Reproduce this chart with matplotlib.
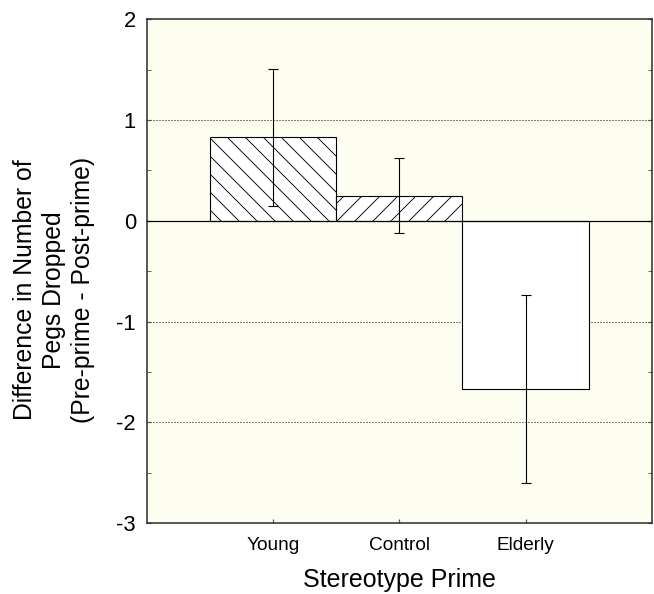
import matplotlib
matplotlib.use('Agg')
import matplotlib.pyplot as plt
from matplotlib.ticker import MultipleLocator

# data
primes = ['Young', 'Control', 'Elderly']
mean_diff = [0.83, 0.25, -1.67]
err = [0.68, 0.37, 0.93]
hatches = ['\\\\', '//', '']

plt.rcParams['font.family'] = ['Liberation Sans', 'DejaVu Sans']
plt.rcParams['axes.unicode_minus'] = False
plt.rcParams['hatch.linewidth'] = 0.6
plt.rcParams['hatch.color'] = 'black'

dpi = 108
px = 72.0 / dpi  # one pixel in points
fig = plt.figure(figsize=(654 / dpi, 594 / dpi), dpi=dpi)
ax = fig.add_axes([0.2248, 0.1195, 0.7717, 0.848])
ax.set_facecolor('#fefef0')

xpos = list(range(1, len(primes) + 1))
bars = ax.bar(xpos, mean_diff, width=1.0, color='white', edgecolor='black',
              linewidth=1.1 * px, zorder=3)
for b, h in zip(bars, hatches):
    b.set_hatch(h)

ax.errorbar(xpos, mean_diff, yerr=err, fmt='none', ecolor='black',
            elinewidth=1.1 * px, capsize=5 * px, capthick=1.1 * px, zorder=4)

# dotted grid + solid zero line
for yv in [1, -1, -2]:
    ax.axhline(yv, color='black', linestyle=(0, (1, 2)), linewidth=1.0 * px, zorder=1)
ax.axhline(0, color='black', linewidth=1.2 * px, zorder=3.5)

ax.set_xlim(0, 4)
ax.set_ylim(-3, 2)
ax.set_xticks(xpos)
ax.set_xticklabels(primes, fontsize=19 * px)
ax.yaxis.set_major_locator(MultipleLocator(1))
ax.yaxis.set_minor_locator(MultipleLocator(0.5))
ax.tick_params(axis='y', which='both', direction='in', left=True, right=True,
               length=4 * px, color='#555555', labelsize=22 * px, pad=11 * px)
ax.tick_params(axis='x', direction='in', length=4 * px, color='#555555', pad=14 * px)

for s in ax.spines.values():
    s.set_color('#333333')
    s.set_linewidth(1.6 * px)

ax.set_xlabel('Stereotype Prime', fontsize=25 * px, labelpad=14 * px)
fig.text(54 / 654, 1 - 290 / 594,
         'Difference in Number of\nPegs Dropped\n(Pre-prime - Post-prime)',
         rotation=90, ha='center', va='center', multialignment='center',
         fontsize=24.8 * px, linespacing=1.25)

fig.savefig('out.png', dpi=dpi)
